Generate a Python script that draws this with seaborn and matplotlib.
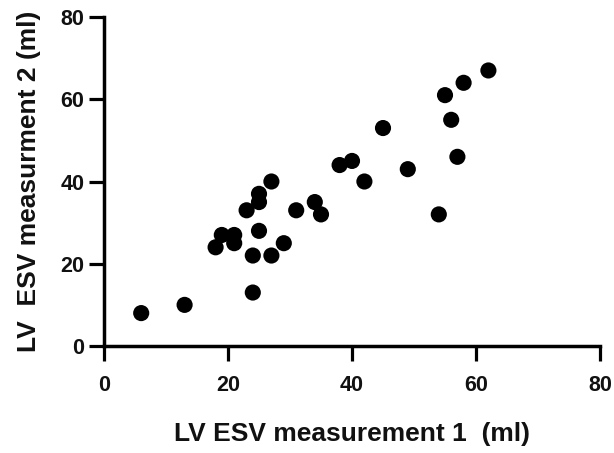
import matplotlib
matplotlib.use("Agg")
import matplotlib.pyplot as plt
import seaborn as sns
import pandas as pd

measurement_1 = [6, 13, 24, 18, 19, 21, 21, 24, 27, 25, 29, 23, 25, 25, 27, 31, 34, 35,
                 38, 40, 42, 45, 49, 54, 55, 56, 57, 58, 62]
measurement_2 = [8, 10, 13, 24, 27, 27, 25, 22, 22, 28, 25, 33, 35, 37, 40, 33, 35, 32,
                 44, 45, 40, 53, 43, 32, 61, 55, 46, 64, 67]
ticks = [0, 20, 40, 60, 80]

df = pd.DataFrame({"m1": measurement_1, "m2": measurement_2})

sns.set_style("ticks")
plt.rcParams['font.family'] = ['Liberation Sans', 'DejaVu Sans']

fig = plt.figure(figsize=(6.14, 4.53), dpi=100)
ax = fig.add_axes([104/614, 1-346/453, (600-104)/614, (346-17)/453])

sns.scatterplot(data=df, x="m1", y="m2", ax=ax, color="black", s=135,
                edgecolor="none", linewidth=0, legend=False)

ax.set_xlim(0, 80)
ax.set_ylim(0, 80)
ax.set_xticks(ticks)
ax.set_yticks(ticks)
ax.set_xticklabels([str(t) for t in ticks], fontsize=15.5, fontweight="bold")
ax.set_yticklabels([str(t) for t in ticks], fontsize=15.5, fontweight="bold")
for sp in ["top", "right"]:
    ax.spines[sp].set_visible(False)
for sp in ["left", "bottom"]:
    ax.spines[sp].set_linewidth(2.5)
    ax.spines[sp].set_color("black")
ax.tick_params(axis="both", direction="out", length=10.8, width=2.3, color="black",
               labelcolor="#111111")
ax.tick_params(axis="x", pad=10)
ax.tick_params(axis="y", pad=3.5)
for lab in ax.get_xticklabels() + ax.get_yticklabels():
    lab.set_clip_on(False)

ax.set_xlabel("LV ESV measurement 1  (ml)", fontsize=19, fontweight="bold", labelpad=18.5,
              color="#111111")
ax.set_ylabel("LV  ESV measurment 2 (ml)", fontsize=19, fontweight="bold", labelpad=13.5,
              color="#111111")

fig.savefig("out.png", dpi=100)
